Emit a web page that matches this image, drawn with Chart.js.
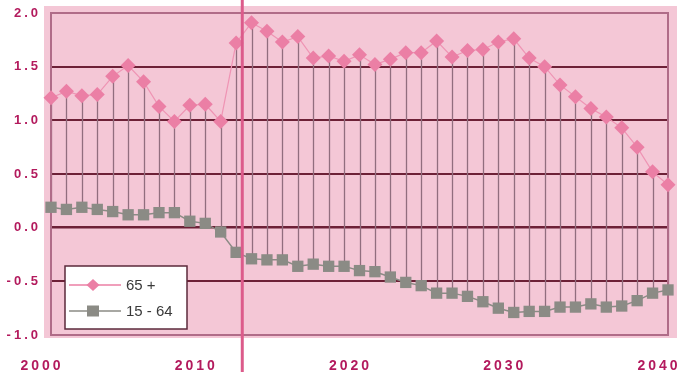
<!DOCTYPE html>
<html><head><meta charset="utf-8">
<script src="https://cdn.jsdelivr.net/npm/chart.js@4/dist/chart.umd.min.js"></script>
<style>html,body{margin:0;padding:0;background:#fff;overflow:hidden}</style>
</head><body>
<canvas id="c" width="677" height="377"></canvas>
<script>
const years = [2000,2001,2002,2003,2004,2005,2006,2007,2008,2009,2010,2011,2012,2013,2014,2015,2016,2017,2018,2019,2020,2021,2022,2023,2024,2025,2026,2027,2028,2029,2030,2031,2032,2033,2034,2035,2036,2037,2038,2039,2040];
const seniors = [1.21,1.27,1.23,1.24,1.41,1.51,1.36,1.13,0.99,1.14,1.15,0.99,1.72,1.91,1.83,1.73,1.78,1.58,1.60,1.55,1.61,1.52,1.57,1.63,1.63,1.74,1.59,1.65,1.66,1.73,1.76,1.58,1.50,1.33,1.22,1.11,1.03,0.93,0.75,0.52,0.40];
const working = [0.19,0.17,0.19,0.17,0.15,0.12,0.12,0.14,0.14,0.06,0.04,-0.04,-0.23,-0.29,-0.30,-0.30,-0.36,-0.34,-0.36,-0.36,-0.40,-0.41,-0.46,-0.51,-0.54,-0.61,-0.61,-0.64,-0.69,-0.75,-0.79,-0.78,-0.78,-0.74,-0.74,-0.71,-0.74,-0.73,-0.68,-0.61,-0.58];
const yTicks = [-1,-0.5,0,0.5,1,1.5,2];
const xTicks = [2000,2010,2020,2030,2040];
const seriesNames = ['65 +','15 - 64'];
const markerYear = 2012.4;

const PINK = '#eb7fa5', GRAY = '#8b8b85', LABEL = '#b31a5d';

const decor = {
  id: 'decor',
  beforeDraw(chart) {
    const {ctx, chartArea: a} = chart;
    ctx.save();
    ctx.fillStyle = '#ffffff';
    ctx.fillRect(0, 0, chart.width, chart.height);
    ctx.fillStyle = '#f4c7d6';
    ctx.fillRect(a.left - 7, a.top - 7, chart.width - a.left + 7, a.bottom - a.top + 10);
    ctx.restore();
    ctx.letterSpacing = '3px';
  },
  beforeDatasetsDraw(chart) {
    const {ctx, chartArea: a} = chart;
    ctx.letterSpacing = '0px';
    const m0 = chart.getDatasetMeta(0), m1 = chart.getDatasetMeta(1);
    ctx.save();
    ctx.strokeStyle = '#916e7e';
    ctx.lineWidth = 1.3;
    for (let i = 0; i < m0.data.length; i++) {
      const p = m0.data[i], q = m1.data[i];
      ctx.beginPath();
      ctx.moveTo(Math.round(p.x) + 0.5, p.y);
      ctx.lineTo(Math.round(q.x) + 0.5, q.y);
      ctx.stroke();
    }
    ctx.strokeStyle = '#b06c88';
    ctx.lineWidth = 2;
    ctx.strokeRect(a.left, a.top, a.right - a.left, a.bottom - a.top);
    ctx.restore();
  },
  afterDatasetsDraw(chart) {
    const {ctx, chartArea: a, scales} = chart;
    ctx.save();
    const xv = scales.x.getPixelForValue(markerYear);
    ctx.strokeStyle = '#dc5b8b';
    ctx.lineWidth = 3;
    ctx.beginPath();
    ctx.moveTo(xv, 0);
    ctx.lineTo(xv, a.bottom + 37);
    ctx.stroke();
    const lx = a.left + 14, ly = a.bottom - 69, lw = 122, lh = 63;
    ctx.fillStyle = '#ffffff';
    ctx.fillRect(lx, ly, lw, lh);
    ctx.strokeStyle = '#5b2a3b';
    ctx.lineWidth = 1.5;
    ctx.strokeRect(lx, ly, lw, lh);
    const rows = [ly + 19, ly + 45];
    const cols = [PINK, GRAY];
    for (let i = 0; i < 2; i++) {
      const y = rows[i];
      ctx.strokeStyle = cols[i];
      ctx.lineWidth = 1.5;
      ctx.beginPath();
      ctx.moveTo(lx + 4, y); ctx.lineTo(lx + 56, y);
      ctx.stroke();
      ctx.fillStyle = cols[i];
      const cx = lx + 28;
      ctx.beginPath();
      if (i === 0) {
        ctx.moveTo(cx, y - 6); ctx.lineTo(cx + 6.5, y); ctx.lineTo(cx, y + 6); ctx.lineTo(cx - 6.5, y); ctx.closePath();
      } else {
        ctx.rect(cx - 6, y - 5.5, 12, 11);
      }
      ctx.fill();
      ctx.fillStyle = '#3a3a3a';
      ctx.font = '15px "Liberation Sans", Arial, sans-serif';
      ctx.textBaseline = 'middle';
      ctx.textAlign = 'left';
      ctx.fillText(seriesNames[i], lx + 61, y + 1);
    }
    ctx.restore();
  }
};

const mk = (vals) => years.map((y, i) => ({x: y, y: vals[i]}));

new Chart(document.getElementById('c'), {
  type: 'line',
  data: {
    datasets: [
      { label: seriesNames[0], data: mk(seniors), borderColor: '#ef94b4', borderWidth: 1.2,
        pointStyle: 'rectRot', pointRadius: 7.5, pointBackgroundColor: PINK, pointBorderColor: PINK, pointBorderWidth: 0,
        tension: 0, order: 0, clip: false },
      { label: seriesNames[1], data: mk(working), borderColor: GRAY, borderWidth: 1.5,
        pointStyle: 'rect', pointRadius: 8, pointBackgroundColor: GRAY, pointBorderColor: GRAY, pointBorderWidth: 0,
        tension: 0, order: 1, clip: false }
    ]
  },
  options: {
    responsive: false,
    animation: false,
    events: [],
    layout: { padding: { top: 13, right: 9, left: 0, bottom: 0 } },
    plugins: { legend: { display: false }, tooltip: { enabled: false } },
    scales: {
      x: {
        type: 'linear', min: 2000, max: 2040,
        afterBuildTicks: s => { s.ticks = xTicks.map(v => ({value: v})); },
        afterFit: s => { s.height = 42; s.paddingLeft = 0; s.paddingRight = 0; },
        grid: { display: false, drawTicks: false },
        border: { display: false },
        ticks: { color: LABEL, font: { family: '"Liberation Sans", Arial, sans-serif', size: 14, weight: 'bold' },
                 padding: 23, labelOffset: -9, maxRotation: 0, autoSkip: false, callback: v => String(v) }
      },
      y: {
        type: 'linear', min: -1, max: 2,
        afterBuildTicks: s => { s.ticks = yTicks.map(v => ({value: v})); },
        afterFit: s => { s.width = 51; s.paddingTop = 0; s.paddingBottom = 0; },
        grid: { drawTicks: false,
                color: c => (c.tick && (c.tick.value === -1 || c.tick.value === 2)) ? 'rgba(0,0,0,0)' : '#6d2137',
                lineWidth: c => (c.tick && c.tick.value === 0) ? 2.5 : 2 },
        border: { display: false },
        ticks: { color: LABEL, font: { family: '"Liberation Sans", Arial, sans-serif', size: 13, weight: 'bold' },
                 padding: 10, callback: v => Number(v).toFixed(1) }
      }
    }
  },
  plugins: [decor]
});
</script>
</body></html>
